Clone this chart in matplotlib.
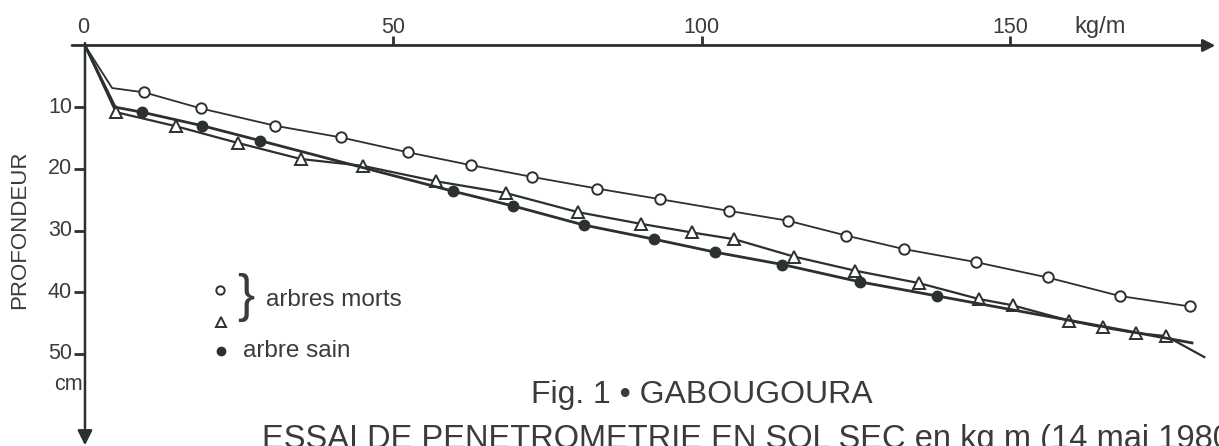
import numpy as np
import matplotlib
matplotlib.use('Agg')
import matplotlib.pyplot as plt

plt.rcParams['font.family'] = ['Liberation Sans', 'DejaVu Sans']

# penetration resistance (kg/m) against depth (cm)
# dead tree 1 (open circles)
mort1_kg = [0, 4.4, 9.6, 18.8, 30.8, 41.5, 52.3, 62.6, 72.5, 83.1, 93.2, 104.4, 114.0, 123.4, 132.8, 144.4, 156.1, 167.8, 179.2]
mort1_cm = [0, 6.9, 7.6, 10.2, 13.0, 14.9, 17.3, 19.4, 21.3, 23.2, 24.9, 26.8, 28.4, 30.8, 33.0, 35.1, 37.6, 40.6, 42.3]

# dead tree 2 (triangles)
mort2_kg = [0, 5.0, 14.8, 24.8, 35.0, 45.0, 56.9, 68.2, 79.9, 90.1, 98.4, 105.3, 114.9, 124.9, 135.2, 145.0, 150.4, 159.6, 165.1, 170.4, 175.3, 181.5]
mort2_cm = [0, 10.8, 13.1, 15.8, 18.4, 19.5, 22.0, 23.9, 27.0, 28.9, 30.3, 31.4, 34.2, 36.5, 38.5, 41.1, 42.1, 44.6, 45.7, 46.6, 47.1, 50.5]

# healthy tree (filled circles)
sain_kg = [0, 4.9, 9.2, 19.0, 28.3, 59.6, 69.4, 80.9, 92.3, 102.2, 113.1, 125.6, 138.2, 179.5]
sain_cm = [0, 10.0, 10.8, 13.0, 15.4, 23.6, 26.0, 29.1, 31.4, 33.5, 35.5, 38.3, 40.6, 48.2]

x_ticks = [50, 100, 150]
y_ticks = [10, 20, 30, 40, 50]

ink = '#2b312c'
txt = '#3a3c3a'

fig = plt.figure(figsize=(12.19, 4.46), dpi=100)
fig.patch.set_facecolor('white')
ax = fig.add_axes([0, 0, 1, 1])
ax.set_xlim(-13.78, 183.88)
ax.set_ylim(64.91, -7.37)
ax.axis('off')

# axes drawn by hand: horizontal on top, depth pointing down
ax.annotate('', xy=(183.3, 0), xytext=(-2.1, 0),
            arrowprops=dict(arrowstyle='-|>', lw=2.0, color=ink, mutation_scale=18, shrinkA=0, shrinkB=0))
ax.annotate('', xy=(0, 64.8), xytext=(0, -0.4),
            arrowprops=dict(arrowstyle='-|>', lw=1.8, color=ink, mutation_scale=22, shrinkA=0, shrinkB=0))

for t in x_ticks:
    ax.plot([t, t], [0, -1.6], color=ink, lw=2.0, solid_capstyle='butt')
    ax.text(t, -2.0, str(t), ha='center', va='baseline', fontsize=15.5, color=txt)
ax.text(-0.3, -2.0, '0', ha='center', va='baseline', fontsize=15.5, color=txt)
ax.text(160.5, -2.0, 'kg/m', ha='left', va='baseline', fontsize=17, color=txt)

for t in y_ticks:
    ax.plot([0, -1.8], [t, t], color=ink, lw=2.0, solid_capstyle='butt')
    ax.text(-2.1, t, str(t), ha='right', va='center', fontsize=15.5, color=txt)
ax.text(-0.4, 55.0, 'cm', ha='right', va='center', fontsize=15.5, color=txt)
ax.text(-10.6, 29.8, 'PROFONDEUR', rotation=90, ha='center', va='center', fontsize=16, color=txt)

# curves
ax.plot(mort1_kg, mort1_cm, color=ink, lw=1.3, marker='o', ms=7.5, mfc='white', mec=ink, mew=1.4,
        markevery=list(range(2, len(mort1_kg))))
ax.plot(mort2_kg, mort2_cm, color=ink, lw=1.6, marker='^', ms=8, mfc='white', mec=ink, mew=1.4,
        markevery=list(range(1, len(mort2_kg) - 1)))
ax.plot(sain_kg, sain_cm, color=ink, lw=2.0, marker='o', ms=7.5, mfc=ink, mec=ink,
        markevery=list(range(2, len(sain_kg) - 1)))

# key
ax.plot([21.9], [39.6], marker='o', ms=6, mfc='white', mec=ink, mew=1.4, ls='none')
ax.plot([22.0], [44.8], marker='^', ms=6.5, mfc='white', mec=ink, mew=1.4, ls='none')
ax.plot([22.0], [49.5], marker='o', ms=6, mfc=ink, mec=ink, ls='none')
ax.text(26.0, 40.8, '}', ha='center', va='center', fontsize=37, color=txt, fontweight='light')
ax.text(29.3, 41.25, 'arbres morts', ha='left', va='center', fontsize=17.5, color=txt)
ax.text(25.6, 49.5, 'arbre sain', ha='left', va='center', fontsize=17.5, color=txt)

# caption
ax.text(72.4, 58.0, 'Fig. 1 \u2022 GABOUGOURA', ha='left', va='baseline', fontsize=23, color=txt)
ax.text(28.7, 65.2, 'ESSAI DE PENETROMETRIE EN SOL SEC en kg m (14 mai 1980)',
        ha='left', va='baseline', fontsize=23.5, color=txt)

fig.savefig('out.png', dpi=100, facecolor='white')
